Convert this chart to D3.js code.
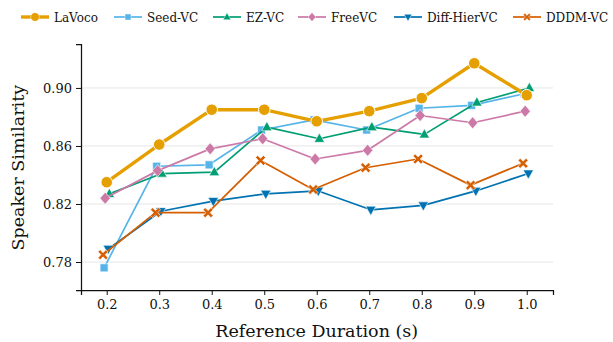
<!DOCTYPE html>
<html>
<head>
<meta charset="utf-8">
<script src="https://cdn.jsdelivr.net/npm/d3@7"></script>
<style>
  body { margin: 0; background: #fff; }
  svg text { font-family: "DejaVu Serif", serif; fill: #111; }
</style>
</head>
<body>
<div id="chart"></div>
<script>
// reference durations (s)
const durations = [0.2, 0.3, 0.4, 0.5, 0.6, 0.7, 0.8, 0.9, 1.0];
const yTicks = [0.78, 0.82, 0.86, 0.90];

const models = ["Seed-VC", "EZ-VC", "FreeVC", "Diff-HierVC", "DDDM-VC", "LaVoco"];
const legendOrder = ["LaVoco", "Seed-VC", "EZ-VC", "FreeVC", "Diff-HierVC", "DDDM-VC"];

const lavoco     = [0.835, 0.861, 0.885, 0.885, 0.877, 0.884, 0.893, 0.917, 0.895];
const seedVC     = [0.776, 0.846, 0.847, 0.871, 0.878, 0.871, 0.886, 0.888, 0.896];
const ezVC       = [0.827, 0.841, 0.842, 0.873, 0.865, 0.873, 0.868, 0.890, 0.900];
const freeVC     = [0.824, 0.843, 0.858, 0.865, 0.851, 0.857, 0.881, 0.876, 0.884];
const diffHierVC = [0.789, 0.815, 0.822, 0.827, 0.829, 0.816, 0.819, 0.829, 0.841];
const dddmVC     = [0.785, 0.814, 0.814, 0.850, 0.830, 0.845, 0.851, 0.833, 0.848];

// small horizontal dodge per model (in seconds)
const dodge = { "LaVoco": 0, "Seed-VC": -0.005, "EZ-VC": 0.005, "FreeVC": -0.003, "Diff-HierVC": 0.003, "DDDM-VC": -0.007 };

const values = {
  "LaVoco": lavoco, "Seed-VC": seedVC, "EZ-VC": ezVC,
  "FreeVC": freeVC, "Diff-HierVC": diffHierVC, "DDDM-VC": dddmVC
};
const colors = {
  "LaVoco": "#E69F00", "Seed-VC": "#56B4E9", "EZ-VC": "#009E73",
  "FreeVC": "#CC79A7", "Diff-HierVC": "#0072B2", "DDDM-VC": "#D55E00"
};
const symbols = {
  "LaVoco": "circle", "Seed-VC": "square", "EZ-VC": "up",
  "FreeVC": "diamond", "Diff-HierVC": "down", "DDDM-VC": "cross"
};

const width = 613, height = 342;
const margin = { top: 44, right: 60, bottom: 52, left: 81 };

const svg = d3.select("#chart").append("svg")
  .attr("width", width)
  .attr("height", height);

const x = d3.scaleLinear().domain([0.151, 1.05]).range([margin.left, width - margin.right]);
const y = d3.scaleLinear().domain([0.7607, 0.9303]).range([height - margin.bottom, margin.top]);

// grid
svg.append("g")
  .selectAll("line")
  .data(yTicks)
  .enter().append("line")
  .attr("x1", margin.left).attr("x2", width - margin.right)
  .attr("y1", d => y(d)).attr("y2", d => y(d))
  .style("stroke", "#e6e6e6")
  .style("stroke-width", 1);

// axes
const xAxis = svg.append("g")
  .attr("transform", `translate(0,${height - margin.bottom})`)
  .call(d3.axisBottom(x).tickValues(durations).tickFormat(d3.format(".1f")).tickSize(5).tickPadding(5));
const yAxis = svg.append("g")
  .attr("transform", `translate(${margin.left},0)`)
  .call(d3.axisLeft(y).tickValues(yTicks).tickFormat(d3.format(".2f")).tickSize(5).tickPadding(4));

[xAxis, yAxis].forEach(a => {
  a.select(".domain").style("stroke", "#111").style("stroke-width", 1.25);
  a.selectAll(".tick line").style("stroke", "#111").style("stroke-width", 1);
  a.selectAll(".tick text").style("font-size", "13px").style("font-family", "DejaVu Serif");
});

svg.append("text")
  .attr("x", x(0.6)).attr("y", 337)
  .attr("text-anchor", "middle")
  .style("font-size", "17.5px")
  .text("Reference Duration (s)");

svg.append("text")
  .attr("transform", `translate(24,${y(0.845)}) rotate(-90)`)
  .attr("text-anchor", "middle")
  .style("font-size", "17.5px")
  .text("Speaker Similarity");

function markerPath(name) {
  const s = symbols[name];
  if (s === "circle") return d3.symbol(d3.symbolCircle, 105)();
  if (s === "square") return d3.symbol(d3.symbolSquare, 64)();
  if (s === "diamond") return "M0,-6L5.2,0L0,6L-5.2,0Z";
  if (s === "up") return "M0,-5.6L5.2,3.6L-5.2,3.6Z";
  if (s === "down") return "M0,5.6L5.2,-3.6L-5.2,-3.6Z";
  // filled X
  const a = 5, b = 2.1;
  return `M${-a},${-a + b}L${-a + b},${-a}L0,${-b}L${a - b},${-a}L${a},${-a + b}L${b},0L${a},${a - b}L${a - b},${a}L0,${b}L${-a + b},${a}L${-a},${a - b}L${-b},0Z`;
}

const line = d3.line()
  .x(d => x(d[0]))
  .y(d => y(d[1]));

models.forEach(name => {
  const pts = durations.map((d, i) => [d + dodge[name], values[name][i]]);
  const g = svg.append("g");
  g.append("path")
    .datum(pts)
    .attr("d", line)
    .style("fill", "none")
    .style("stroke", colors[name])
    .style("stroke-width", name === "LaVoco" ? 3.4 : 1.7)
    .style("stroke-linejoin", "round");
  g.selectAll("path.m")
    .data(pts)
    .enter().append("path")
    .attr("class", "m")
    .attr("transform", d => `translate(${x(d[0])},${y(d[1])})`)
    .attr("d", markerPath(name))
    .style("fill", colors[name])
    .style("stroke", "#fff")
    .style("stroke-width", name === "LaVoco" ? 1 : 0.6);
});

// legend
const legendX = [21, 114, 213, 298, 394, 513];
const legend = svg.append("g");
legendOrder.forEach((name, i) => {
  const lx = legendX[i], ly = 17;
  const g = legend.append("g").attr("transform", `translate(${lx},${ly})`);
  g.append("line")
    .attr("x1", 0).attr("x2", 28)
    .style("stroke", colors[name])
    .style("stroke-width", name === "LaVoco" ? 3.4 : 1.7);
  g.append("path")
    .attr("transform", "translate(14,0) scale(0.75)")
    .attr("d", markerPath(name))
    .style("fill", colors[name])
    .style("stroke", "#fff")
    .style("stroke-width", 0.6);
  g.append("text")
    .attr("x", 33).attr("y", 4.5)
    .style("font-size", "12px")
    .text(name);
});
</script>
</body>
</html>
